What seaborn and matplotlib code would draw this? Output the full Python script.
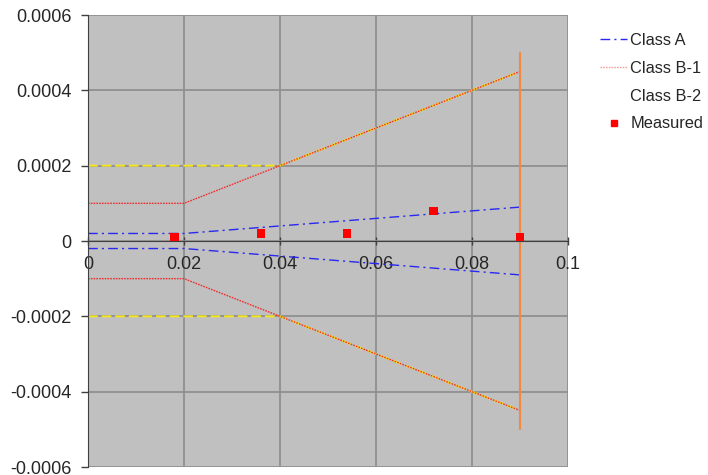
import numpy as np
import pandas as pd
import matplotlib
matplotlib.use("Agg")
import matplotlib.pyplot as plt
from matplotlib.lines import Line2D
import seaborn as sns

# =========================
# DATA
# =========================
class_a_x = [0.0, 0.02, 0.09]
class_a_upper = [0.00002, 0.00002, 0.00009]
class_a_lower = [-0.00002, -0.00002, -0.00009]

class_b1_x = [0.0, 0.02, 0.09]
class_b1_upper = [0.0001, 0.0001, 0.00045]
class_b1_lower = [-0.0001, -0.0001, -0.00045]

class_b2_x = [0.0, 0.04, 0.09]
class_b2_upper = [0.0002, 0.0002, 0.00045]
class_b2_lower = [-0.0002, -0.0002, -0.00045]

limit_x = [0.09, 0.09]
limit_y = [-0.0005, 0.0005]

measured_x = [0.018, 0.036, 0.054, 0.072, 0.09]
measured_y = [0.00001, 0.00002, 0.00002, 0.00008, 0.00001]

x_ticks = [0, 0.02, 0.04, 0.06, 0.08, 0.1]
x_labels = ["0", "0.02", "0.04", "0.06", "0.08", "0.1"]
y_ticks = [-0.0006, -0.0004, -0.0002, 0, 0.0002, 0.0004, 0.0006]
y_labels = ["-0.0006", "-0.0004", "-0.0002", "0", "0.0002", "0.0004", "0.0006"]

# =========================
# STYLE
# =========================
sns.set_style("white")
plt.rcParams["font.family"] = ["Liberation Sans", "DejaVu Sans"]

BLUE = "#2828F0"
RED = "#F03030"
YELLOW = "#F4E81C"
ORANGE = "#F08A40"
GRID = "#8C8C8C"

fig = plt.figure(figsize=(7.08, 4.75), dpi=100)
ax = fig.add_axes([88 / 708, 8 / 475, 480 / 708, 452 / 475])
ax.set_facecolor("#C0C0C0")

dashdot = (0, (7, 3, 1.5, 3))
dotted = (0, (1.2, 0.8))
dashed = (0, (5, 2))

# yellow first so the red dots sit on top of it
for ys in (class_b2_upper, class_b2_lower):
    sns.lineplot(x=class_b2_x, y=ys, ax=ax, color=YELLOW, lw=1.4,
                 linestyle=dashed, sort=False, estimator=None)
for ys in (class_b1_upper, class_b1_lower):
    sns.lineplot(x=class_b1_x, y=ys, ax=ax, color=RED, lw=1.0,
                 linestyle=dotted, sort=False, estimator=None)
for ys in (class_a_upper, class_a_lower):
    sns.lineplot(x=class_a_x, y=ys, ax=ax, color=BLUE, lw=1.0,
                 linestyle=dashdot, sort=False, estimator=None)

sns.lineplot(x=limit_x, y=limit_y, ax=ax, color=ORANGE, lw=1.5,
             sort=False, estimator=None)

sns.scatterplot(x=measured_x, y=measured_y, ax=ax, color="#FF0000",
                marker="s", s=36, edgecolor="none", zorder=5)

# =========================
# AXES
# =========================
ax.set_xlim(0, 0.1)
ax.set_ylim(-0.0006, 0.0006)
ax.set_xticks(x_ticks)
ax.set_xticklabels(x_labels)
ax.set_yticks(y_ticks)
ax.set_yticklabels(y_labels)
ax.grid(True, color=GRID, lw=1.2)
ax.set_axisbelow(True)

for side in ("top", "right"):
    ax.spines[side].set_visible(False)
ax.spines["bottom"].set_position(("data", 0))
ax.spines["bottom"].set_color("#404040")
ax.spines["left"].set_color("#404040")
ax.tick_params(axis="y", direction="out", length=5, width=1,
               color="#404040", labelsize=13, pad=7, left=True)
ax.tick_params(axis="x", direction="inout", length=6, width=1,
               color="#404040", labelsize=13, pad=8, bottom=True)

# =========================
# LEGEND
# =========================
handles = [
    Line2D([], [], color=BLUE, lw=1.0, linestyle=dashdot),
    Line2D([], [], color="#F4A0A0", lw=1.0, linestyle=dotted),
    Line2D([], [], color="white", lw=1.0),
    Line2D([], [], color="#FF0000", marker="s", markersize=5, lw=0),
]
fig.legend(handles, ["Class A", "Class B-1", "Class B-2", "Measured"],
           loc="upper left", bbox_to_anchor=(600 / 708, 1 - 33 / 475),
           frameon=False, fontsize=11.8, handlelength=1.65,
           handletextpad=0.2, labelspacing=0.78,
           borderpad=0, borderaxespad=0)

fig.savefig("out.png", dpi=100)
